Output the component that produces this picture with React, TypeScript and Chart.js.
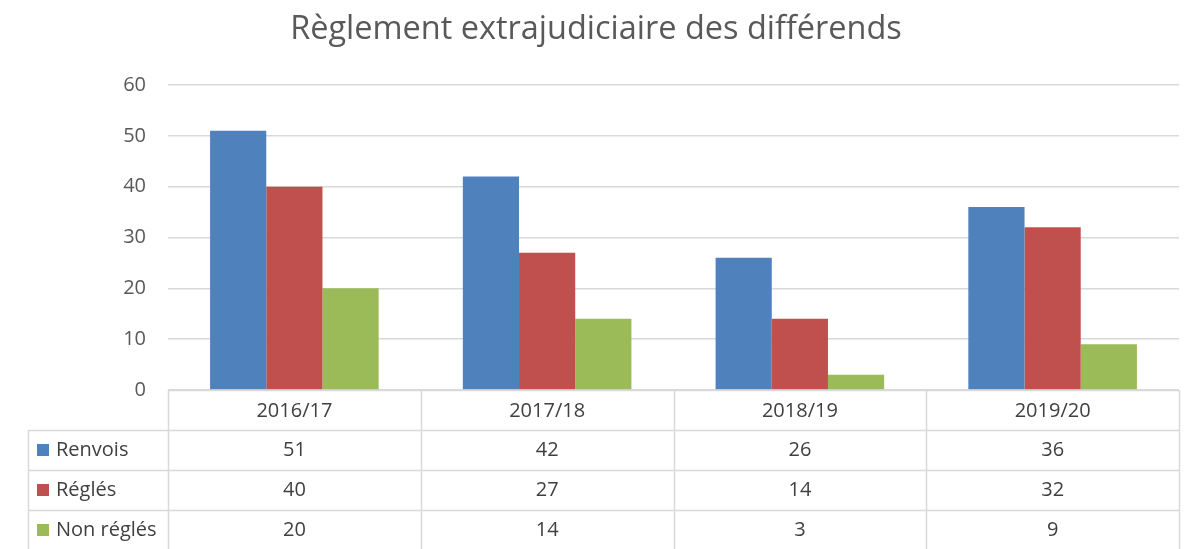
import React, { useEffect, useRef } from "react";
import { Chart, registerables } from "chart.js";

Chart.register(...registerables);

const TITLE = "Règlement extrajudiciaire des différends";
const CATEGORIES = ["2016/17", "2017/18", "2018/19", "2019/20"];
const SERIES_NAMES = ["Renvois", "Réglés", "Non réglés"];
const RENVOIS = [51, 42, 26, 36];
const REGLES = [40, 27, 14, 32];
const NON_REGLES = [20, 14, 3, 9];
const COLORS = ["#4F81BD", "#C0504D", "#9BBB59"];
const Y_MIN = 0;
const Y_MAX = 60;
const Y_STEP = 10;

const FONT = "'Open Sans', sans-serif";
const LINE = "#d9d9d9";
const TEXT = "#595959";

const tablePlugin = {
  id: "dataTable",
  afterDraw(chart: any) {
    const ctx = chart.ctx as CanvasRenderingContext2D;
    const area = chart.chartArea;
    const x = chart.scales.x;
    const n = CATEGORIES.length;
    const catW = (area.right - area.left) / n;
    const rowH = 40;
    const top = area.bottom;
    const tableLeft = 28;
    const bottom = chart.height;

    ctx.save();
    // title
    ctx.fillStyle = TEXT;
    let size = 28;
    ctx.font = `${size}px ${FONT}`;
    const w = ctx.measureText(TITLE).width;
    size = size * 612 / w;
    ctx.font = `${size}px ${FONT}`;
    ctx.textAlign = "center";
    ctx.textBaseline = "middle";
    ctx.fillText(TITLE, 596, 30);

    // lines
    ctx.strokeStyle = LINE;
    ctx.lineWidth = 1.5;
    ctx.beginPath();
    // axis line
    ctx.moveTo(area.left, top + 0.5);
    ctx.lineTo(area.right, top + 0.5);
    for (let r = 1; r <= 3; r++) {
      const y = Math.round(top + r * rowH) + 0.5;
      ctx.moveTo(tableLeft, y);
      ctx.lineTo(area.right, y);
    }
    // verticals
    for (let i = 0; i <= n; i++) {
      const xx = Math.round(area.left + i * catW) + 0.5;
      ctx.moveTo(xx, top);
      ctx.lineTo(xx, bottom);
    }
    ctx.moveTo(tableLeft + 0.5, top + rowH);
    ctx.lineTo(tableLeft + 0.5, bottom);
    ctx.stroke();

    // text
    ctx.font = `20px ${FONT}`;
    ctx.fillStyle = "#404040";
    ctx.textAlign = "center";
    ctx.textBaseline = "middle";
    const series = [RENVOIS, REGLES, NON_REGLES];
    CATEGORIES.forEach((c, i) => {
      const cx = x.getPixelForValue(i);
      ctx.fillText(c, cx, top + rowH / 2 + 1);
      series.forEach((s, r) => {
        ctx.fillText(String(s[i]), cx, top + rowH * (r + 1) + rowH / 2);
      });
    });
    ctx.textAlign = "left";
    SERIES_NAMES.forEach((name, r) => {
      const cy = top + rowH * (r + 1) + rowH / 2;
      ctx.fillStyle = COLORS[r];
      ctx.fillRect(37, cy - 6, 12, 12);
      ctx.fillStyle = "#404040";
      ctx.fillText(name, 56, cy);
    });
    ctx.restore();
  },
};

export default function App() {
  const ref = useRef<HTMLCanvasElement | null>(null);
  useEffect(() => {
    if (!ref.current) return;
    const chart = new Chart(ref.current, {
      type: "bar",
      data: {
        labels: CATEGORIES,
        datasets: [
          { label: SERIES_NAMES[0], data: RENVOIS, backgroundColor: COLORS[0] },
          { label: SERIES_NAMES[1], data: REGLES, backgroundColor: COLORS[1] },
          { label: SERIES_NAMES[2], data: NON_REGLES, backgroundColor: COLORS[2] },
        ],
      },
      options: {
        animation: false,
        responsive: false,
        devicePixelRatio: 1,
        layout: { padding: { left: 108, right: 6, top: 85, bottom: 159 } },
        plugins: {
          legend: { display: false },
          title: { display: false },
          tooltip: { enabled: false },
        },
        datasets: {
          bar: { categoryPercentage: 0.667, barPercentage: 1.0 },
        },
        scales: {
          x: { display: false },
          y: {
            min: Y_MIN,
            max: Y_MAX,
            afterFit: (s: any) => {
              s.width = 60;
            },
            ticks: {
              stepSize: Y_STEP,
              color: TEXT,
              font: { family: FONT, size: 20 },
              padding: 22,
            },
            grid: { color: LINE, lineWidth: 1.5, drawTicks: false },
            border: { display: false },
          },
        },
      },
      plugins: [tablePlugin],
    });
    return () => chart.destroy();
  }, []);
  return (
    <div style={{ position: "fixed", left: 0, top: 0, width: 1185, height: 549, background: "#fff" }}>
      <canvas ref={ref} width={1185} height={549} />
    </div>
  );
}
